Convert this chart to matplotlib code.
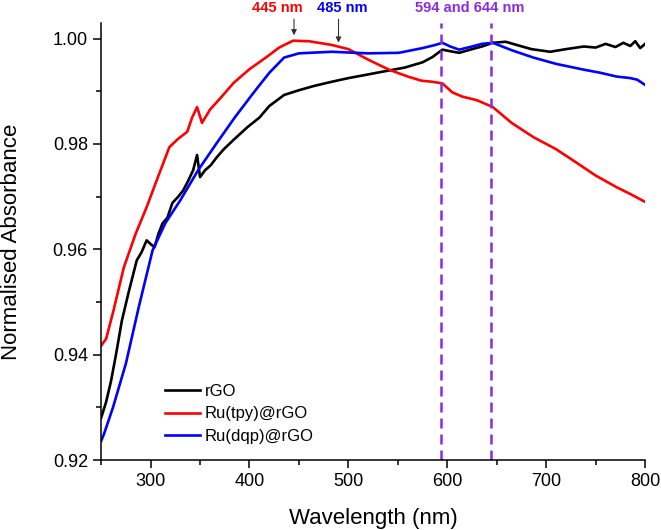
import matplotlib
matplotlib.use("Agg")
import matplotlib.pyplot as plt

plt.rcParams['font.family'] = ['Liberation Sans', 'DejaVu Sans']

wl_rgo = [250, 255, 260, 265, 271, 278, 286, 291, 296, 300, 304, 308, 312, 317,
          322, 328, 333, 338, 343, 347, 350, 355, 361, 367, 374, 384, 391, 398,
          410, 420, 435, 450, 465, 483, 500, 520, 534, 557, 575, 585, 595, 603,
          612, 625, 635, 646, 659, 670, 685, 704, 720, 738, 750, 760, 770, 778,
          785, 790, 795, 800]
abs_rgo = [0.9280, 0.9310, 0.9350, 0.9400, 0.9465, 0.9520, 0.9579, 0.9595,
           0.9617, 0.9610, 0.9604, 0.9630, 0.9649, 0.9660, 0.9688, 0.9700,
           0.9712, 0.9730, 0.9750, 0.9779, 0.9737, 0.9750, 0.9760, 0.9775,
           0.9790, 0.9808, 0.9820, 0.9832, 0.9850, 0.9872, 0.9893, 0.9902,
           0.9910, 0.9918, 0.9925, 0.9932, 0.9937, 0.9945, 0.9955, 0.9965,
           0.9979, 0.9976, 0.9973, 0.9980, 0.9985, 0.9992, 0.9994, 0.9988,
           0.9980, 0.9975, 0.9980, 0.9985, 0.9983, 0.9990, 0.9984, 0.9992,
           0.9986, 0.9995, 0.9982, 0.9990]

wl_tpy = [250, 255, 262, 273, 285, 296, 308, 319, 328, 337, 342, 347, 352, 360,
          372, 384, 400, 418, 430, 444, 460, 483, 500, 520, 541, 560, 574, 585,
          595, 605, 615, 630, 646, 665, 687, 710, 731, 750, 771, 785, 800]
abs_tpy = [0.9417, 0.9430, 0.9480, 0.9566, 0.9630, 0.9680, 0.9740, 0.9794,
           0.9810, 0.9823, 0.9850, 0.9870, 0.9840, 0.9865, 0.9890, 0.9916,
           0.9942, 0.9966, 0.9983, 0.9996, 0.9995, 0.9988, 0.9980, 0.9960,
           0.9941, 0.9928, 0.9920, 0.9918, 0.9915, 0.9898, 0.9890, 0.9883,
           0.9870, 0.9840, 0.9813, 0.9790, 0.9764, 0.9740, 0.9718, 0.9705,
           0.9690]

wl_dqp = [250, 253, 262, 275, 288, 302, 315, 330, 348, 367, 385, 404, 420, 435,
          450, 483, 520, 551, 575, 588, 595, 603, 612, 625, 635, 646, 665, 687,
          710, 738, 755, 771, 785, 792, 800]
abs_dqp = [0.9236, 0.9250, 0.9300, 0.9383, 0.9490, 0.9598, 0.9650, 0.9693,
           0.9750, 0.9802, 0.9850, 0.9897, 0.9935, 0.9964, 0.9972, 0.9975,
           0.9972, 0.9973, 0.9982, 0.9988, 0.9992, 0.9985, 0.9979, 0.9985,
           0.9990, 0.9992, 0.9978, 0.9964, 0.9952, 0.9941, 0.9935, 0.9928,
           0.9925, 0.9922, 0.9912]

peak_lines = [594, 644]

fig = plt.figure(figsize=(6.61, 5.30), dpi=100)
ax = fig.add_axes([0.153, 0.132, 0.823, 0.825])

ax.plot(wl_rgo, abs_rgo, color='black', lw=1.9, label='rGO')
ax.plot(wl_tpy, abs_tpy, color='#ff0000', lw=1.9, label='Ru(tpy)@rGO')
ax.plot(wl_dqp, abs_dqp, color='#0000ff', lw=1.9, label='Ru(dqp)@rGO')

for x in peak_lines:
    ax.axvline(x, color='#8a2be2', lw=1.8, dashes=(4, 2.4))

ax.set_xlim(250, 800)
ax.set_ylim(0.92, 1.003)
ax.set_xticks([300, 400, 500, 600, 700, 800])
ax.set_xticks([250, 350, 450, 550, 650, 750], minor=True)
ax.set_yticks([0.92, 0.94, 0.96, 0.98, 1.00])
ax.set_yticks([0.93, 0.95, 0.97, 0.99], minor=True)
ax.set_yticklabels(['0.92', '0.94', '0.96', '0.98', '1.00'])
ax.tick_params(which='major', length=6, width=1.1, labelsize=13)
ax.tick_params(which='minor', length=3.5, width=1.1)
ax.spines['top'].set_visible(False)
ax.spines['right'].set_visible(False)
for s in ['left', 'bottom']:
    ax.spines[s].set_linewidth(1.1)

ax.set_xlabel('Wavelength (nm)', fontsize=16, labelpad=13)
ax.set_ylabel('Normalised Absorbance', fontsize=16, labelpad=22)

# peak annotations above the plot
ax.annotate('', xy=(445, 1.0001), xytext=(445, 1.0042),
            arrowprops=dict(arrowstyle='-|>', color='#333333', lw=0.8,
                            mutation_scale=8), annotation_clip=False)
ax.annotate('', xy=(490, 0.9987), xytext=(490, 1.0042),
            arrowprops=dict(arrowstyle='-|>', color='#333333', lw=0.8,
                            mutation_scale=8), annotation_clip=False)
ax.text(428, 1.0059, '445 nm', color='#ff0000', fontsize=10.5,
        fontweight='bold', ha='center', va='center', clip_on=False)
ax.text(494, 1.0059, '485 nm', color='#0000ff', fontsize=10.5,
        fontweight='bold', ha='center', va='center', clip_on=False)
ax.text(623, 1.0059, '594 and 644 nm', color='#8a2be2', fontsize=10.5,
        fontweight='bold', ha='center', va='center', clip_on=False)

ax.legend(loc='upper left', bbox_to_anchor=(0.117, 0.174), frameon=False,
          fontsize=12, handlelength=2.1, handletextpad=0.3, borderpad=0,
          borderaxespad=0, labelspacing=0.45)

fig.savefig('out.png', dpi=100)
